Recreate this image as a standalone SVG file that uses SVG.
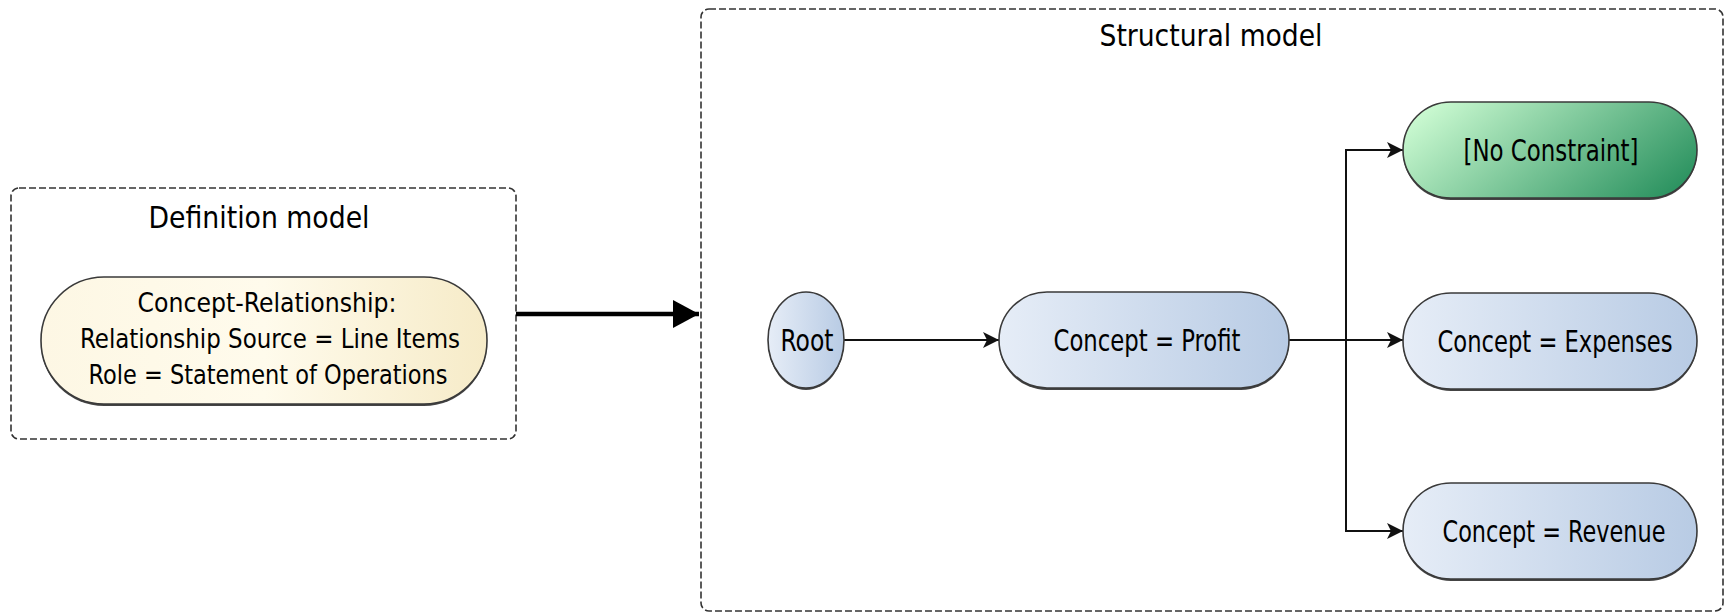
<svg xmlns="http://www.w3.org/2000/svg" width="1734" height="613" viewBox="0 0 1734 613">
<defs>
<linearGradient id="gBlue" x1="0" y1="0" x2="1" y2="0">
<stop offset="0" stop-color="#e6edf7"/>
<stop offset="1" stop-color="#b8cbe4"/>
</linearGradient>
<linearGradient id="gGreen" x1="0" y1="0.3" x2="1" y2="0.7">
<stop offset="0" stop-color="#c8f8cf"/>
<stop offset="1" stop-color="#2e9462"/>
</linearGradient>
<linearGradient id="gYellow" x1="0" y1="0" x2="1" y2="0">
<stop offset="0" stop-color="#fdf7e4"/>
<stop offset="0.5" stop-color="#fffbec"/>
<stop offset="1" stop-color="#f6ebc8"/>
</linearGradient>
<marker id="ah" markerWidth="16" markerHeight="16" refX="16" refY="8" orient="auto" markerUnits="userSpaceOnUse">
<path d="M0,0 L16,8 L0,16 L4,8 z" fill="#111"/>
</marker>
<marker id="bigah" markerWidth="26" markerHeight="28" refX="26" refY="14" orient="auto" markerUnits="userSpaceOnUse">
<path d="M0,0 L26,14 L0,28 z" fill="#000"/>
</marker>
</defs>
<style>
.frame{fill:#fff;stroke:#333;stroke-width:1.6;stroke-dasharray:7 3}
.node{stroke:#3a3a3a;stroke-width:1.6}
.shadow{fill:#444}
.t{font-family:"DejaVu Sans Condensed","DejaVu Sans",sans-serif;font-stretch:condensed;fill:#000;text-anchor:middle}
.title{font-size:31px}
.lbl{font-size:31px}
.def{font-size:27px}
.conn{fill:none;stroke:#111;stroke-width:2}
</style>
<rect width="1734" height="613" fill="#fff"/>

<g id="definition-model">
<rect class="frame" x="11" y="188" width="505" height="251" rx="8"/>
<text class="t title" x="259" y="228" textLength="221" lengthAdjust="spacingAndGlyphs">Definition model</text>
</g>

<g id="structural-model">
<rect class="frame" x="701" y="9" width="1022" height="602" rx="8"/>
<text class="t title" x="1211" y="46" textLength="223" lengthAdjust="spacingAndGlyphs">Structural model</text>
</g>

<g id="connectors">
<line x1="516" y1="314" x2="699" y2="314" stroke="#000" stroke-width="4.5" marker-end="url(#bigah)"/>
<line class="conn" x1="843" y1="340" x2="999" y2="340" marker-end="url(#ah)"/>
<polyline class="conn" points="1289,340 1346,340"/>
<polyline class="conn" points="1346,340 1403,340" marker-end="url(#ah)"/>
<polyline class="conn" points="1346,340 1346,150 1403,150" marker-end="url(#ah)"/>
<polyline class="conn" points="1346,340 1346,531 1403,531" marker-end="url(#ah)"/>
</g>

<g id="node-definition">
<rect class="shadow" x="41" y="279" width="446" height="127" rx="63"/>
<rect class="node" x="41" y="277" width="446" height="127" rx="63" fill="url(#gYellow)"/>
<text class="t def" x="267" y="312" textLength="259" lengthAdjust="spacingAndGlyphs">Concept-Relationship:</text>
<text class="t def" x="270" y="348" textLength="380" lengthAdjust="spacingAndGlyphs">Relationship Source = Line Items</text>
<text class="t def" x="268" y="384" textLength="359" lengthAdjust="spacingAndGlyphs">Role = Statement of Operations</text>
</g>

<g id="node-root">
<ellipse class="shadow" cx="806" cy="342" rx="38" ry="48"/>
<ellipse class="node" cx="806" cy="340" rx="38" ry="48" fill="url(#gBlue)"/>
<text class="t lbl" x="807" y="351" textLength="53" lengthAdjust="spacingAndGlyphs">Root</text>
</g>

<g id="node-profit">
<rect class="shadow" x="999" y="294" width="290" height="96" rx="48"/>
<rect class="node" x="999" y="292" width="290" height="96" rx="48" fill="url(#gBlue)"/>
<text class="t lbl" x="1147" y="351" textLength="187" lengthAdjust="spacingAndGlyphs">Concept = Profit</text>
</g>

<g id="node-noconstraint">
<rect class="shadow" x="1403" y="104" width="294" height="96" rx="48"/>
<rect class="node" x="1403" y="102" width="294" height="96" rx="48" fill="url(#gGreen)"/>
<text class="t lbl" x="1551" y="161" textLength="175" lengthAdjust="spacingAndGlyphs">[No Constraint]</text>
</g>

<g id="node-expenses">
<rect class="shadow" x="1403" y="295" width="294" height="96" rx="48"/>
<rect class="node" x="1403" y="293" width="294" height="96" rx="48" fill="url(#gBlue)"/>
<text class="t lbl" x="1555" y="352" textLength="235" lengthAdjust="spacingAndGlyphs">Concept = Expenses</text>
</g>

<g id="node-revenue">
<rect class="shadow" x="1403" y="485" width="294" height="96" rx="48"/>
<rect class="node" x="1403" y="483" width="294" height="96" rx="48" fill="url(#gBlue)"/>
<text class="t lbl" x="1554" y="542" textLength="223" lengthAdjust="spacingAndGlyphs">Concept = Revenue</text>
</g>
</svg>
